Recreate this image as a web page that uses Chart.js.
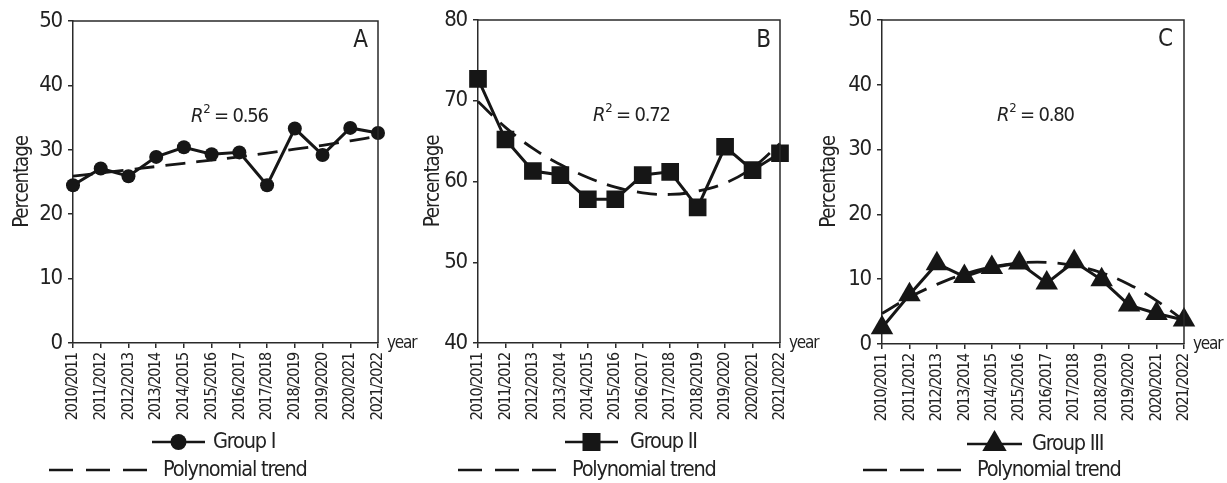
<!DOCTYPE html>
<html>
<head>
<meta charset="utf-8">
<script src="https://cdn.jsdelivr.net/npm/chart.js@4.4.1/dist/chart.umd.min.js"></script>
<style>
  html, body { margin: 0; padding: 0; background: #fff; }
  #wrap { position: relative; width: 1227px; height: 483px; }
  #wrap canvas { position: absolute; left: 0; top: 0; }
</style>
</head>
<body>
<div id="wrap">
  <canvas id="cA" width="1227" height="483"></canvas>
  <canvas id="cB" width="1227" height="483"></canvas>
  <canvas id="cC" width="1227" height="483"></canvas>
</div>
<script>
const categories = ['2010/2011','2011/2012','2012/2013','2013/2014','2014/2015','2015/2016',
                    '2016/2017','2017/2018','2018/2019','2019/2020','2020/2021','2021/2022'];
const groupI   = [24.5, 27.1, 25.9, 28.9, 30.4, 29.3, 29.6, 24.5, 33.3, 29.2, 33.4, 32.6];
const trendI   = [25.9, 26.4, 26.9, 27.4, 27.9, 28.4, 28.9, 29.5, 30.1, 30.7, 31.4, 32.1];
const groupII  = [72.7, 65.2, 61.3, 60.8, 57.8, 57.8, 60.8, 61.2, 56.8, 64.3, 61.4, 63.5];
const trendII  = [69.9, 66.7, 64.1, 62.1, 60.5, 59.3, 58.6, 58.4, 58.8, 59.8, 61.7, 64.7];
const groupIII = [2.5, 7.6, 12.4, 10.4, 11.8, 12.5, 9.4, 12.7, 9.9, 6.0, 4.7, 3.7];
const trendIII = [4.7, 7.2, 9.2, 10.8, 11.9, 12.5, 12.6, 12.1, 11.0, 9.2, 6.7, 3.6];
const seriesNames = ['Group I', 'Group II', 'Group III'];
const trendName = 'Polynomial trend';
const panelLetters = ['A', 'B', 'C'];
const r2Labels = ['0.56', '0.72', '0.80'];
const axisTitle = 'Percentage';
const xAxisName = 'year';

const FONT = "'DejaVu Sans Condensed', 'Liberation Sans Narrow', sans-serif";
const SPACING = '-1.2px';
const INK = '#161616';
const AXIS = '#2a2a2a';

// tighter letter spacing for a condensed look (applies to all canvas text)
Chart.register({
  id: 'tightText',
  beforeUpdate(c) { c.ctx.letterSpacing = SPACING; },
  beforeLayout(c) { c.ctx.letterSpacing = SPACING; },
  beforeDraw(c) { c.ctx.letterSpacing = SPACING; }
});

function drawMarker(ctx, style, x, y, r) {
  ctx.beginPath();
  if (style === 'circle') {
    ctx.arc(x, y, r, 0, Math.PI * 2);
  } else if (style === 'rect') {
    ctx.rect(x - r, y - r, 2 * r, 2 * r);
  } else {
    ctx.moveTo(x, y - r);
    ctx.lineTo(x + r * 0.87, y + r * 0.5);
    ctx.lineTo(x - r * 0.87, y + r * 0.5);
    ctx.closePath();
  }
  ctx.fill();
}

const decor = {
  id: 'decor',
  afterDraw(chart, args, o) {
    const {ctx, chartArea: a} = chart;
    ctx.save();
    ctx.letterSpacing = SPACING;
    // top and right frame
    ctx.strokeStyle = AXIS; ctx.lineWidth = 1.5;
    ctx.beginPath();
    ctx.moveTo(a.left, a.top); ctx.lineTo(a.right, a.top); ctx.lineTo(a.right, a.bottom);
    ctx.stroke();
    ctx.fillStyle = '#222';
    ctx.textBaseline = 'middle';
    // panel letter
    ctx.font = `24px ${FONT}`; ctx.textAlign = 'center';
    ctx.fillText(o.letter, o.letterX, o.letterY);
    // year label
    ctx.font = `17px ${FONT}`; ctx.textAlign = 'left';
    ctx.fillText(xAxisName, a.right + 9, a.bottom + 1);
    // R^2
    let x = o.r2X; const y = o.r2Y;
    ctx.font = `italic 20px ${FONT}`;
    ctx.fillText('R', x, y); x += ctx.measureText('R').width;
    ctx.font = `13px ${FONT}`;
    ctx.fillText('2', x + 1, y - 7); x += ctx.measureText('2').width + 1;
    ctx.font = `20px ${FONT}`;
    ctx.fillText(' = ' + o.r2, x, y);
    // legend: series
    ctx.strokeStyle = INK; ctx.fillStyle = INK; ctx.lineWidth = 2.5;
    ctx.beginPath(); ctx.moveTo(o.lx1, o.ly); ctx.lineTo(o.lx2, o.ly); ctx.stroke();
    drawMarker(ctx, o.marker, (o.lx1 + o.lx2) / 2, o.ly, o.mr);
    ctx.fillStyle = '#222';
    ctx.font = `21.5px ${FONT}`;
    ctx.fillText(o.name, o.ltx, o.ly);
    // legend: trend
    ctx.strokeStyle = INK; ctx.lineWidth = 2.5;
    for (let k = 0; k < 3; k++) {
      const s = o.dx + k * 37;
      ctx.beginPath(); ctx.moveTo(s, o.dy); ctx.lineTo(s + 24, o.dy); ctx.stroke();
    }
    ctx.fillText(trendName, o.dtx, o.dy);
    ctx.restore();
  }
};

function makeChart(id, data, trend, cfg) {
  return new Chart(document.getElementById(id), {
    type: 'line',
    data: {
      labels: categories,
      datasets: [
        {
          data: trend, borderColor: INK, borderWidth: 2.8, borderDash: [20, 11],
          pointRadius: 0, tension: 0.4, order: 0
        },
        {
          data: data, borderColor: INK, backgroundColor: INK, borderWidth: 3,
          pointStyle: cfg.pointStyle, pointRadius: cfg.pointRadius,
          pointBorderWidth: 0, tension: 0, order: 1
        }
      ]
    },
    options: {
      responsive: false,
      animation: false,
      devicePixelRatio: 1,
      layout: { padding: { left: cfg.padLeft, right: cfg.padRight, top: cfg.top, bottom: 0 } },
      plugins: {
        legend: { display: false },
        tooltip: { enabled: false },
        decor: cfg.decor
      },
      scales: {
        x: {
          offset: false,
          grid: { display: true, drawOnChartArea: false, drawTicks: true, tickLength: 5, color: AXIS, lineWidth: 1.5 },
          border: { display: true, color: AXIS, width: 1.5 },
          ticks: { autoSkip: false, minRotation: 90, maxRotation: 90, padding: 5, color: '#222',
                   font: { family: FONT, size: 16 } },
          afterFit: (s) => { s.height = cfg.xHeight; }
        },
        y: {
          min: cfg.min, max: cfg.max,
          grid: { display: true, drawOnChartArea: false, drawTicks: true, tickLength: 5, color: AXIS, lineWidth: 1.5 },
          border: { display: true, color: AXIS, width: 1.5 },
          ticks: { stepSize: 10, padding: 6, color: '#222', font: { family: FONT, size: 22 } },
          title: { display: true, text: axisTitle, color: '#222', font: { family: FONT, size: 20.5 },
                   padding: { top: 4, bottom: 4 } },
          afterFit: (s) => { s.width = cfg.yWidth; }
        }
      }
    },
    plugins: [decor]
  });
}

makeChart('cA', groupI, trendI, {
  pointStyle: 'circle', pointRadius: 7, min: 0, max: 50,
  padLeft: 6, yWidth: 67, padRight: 1227 - 378, top: 21, xHeight: 140,
  decor: { letter: panelLetters[0], letterX: 360, letterY: 41, r2: r2Labels[0], r2X: 191, r2Y: 117,
           marker: 'circle', mr: 8, name: seriesNames[0], lx1: 152, lx2: 205, ly: 442, ltx: 213,
           dx: 49, dy: 470, dtx: 163 }
});
makeChart('cB', groupII, trendII, {
  pointStyle: 'rect', pointRadius: 12.5, min: 40, max: 80,
  padLeft: 417, yWidth: 61, padRight: 1227 - 780, top: 20, xHeight: 140,
  decor: { letter: panelLetters[1], letterX: 763, letterY: 41, r2: r2Labels[1], r2X: 593, r2Y: 116,
           marker: 'rect', mr: 9, name: seriesNames[1], lx1: 565, lx2: 618, ly: 442, ltx: 630,
           dx: 458, dy: 470, dtx: 572 }
});
makeChart('cC', groupIII, trendIII, {
  pointStyle: 'triangle', pointRadius: 13, min: 0, max: 50,
  padLeft: 813, yWidth: 69, padRight: 1227 - 1184, top: 20, xHeight: 139,
  decor: { letter: panelLetters[2], letterX: 1165, letterY: 40, r2: r2Labels[2], r2X: 997, r2Y: 116,
           marker: 'triangle', mr: 14, name: seriesNames[2], lx1: 967, lx2: 1022, ly: 444, ltx: 1032,
           dx: 863, dy: 470, dtx: 977 }
});
</script>
</body>
</html>
